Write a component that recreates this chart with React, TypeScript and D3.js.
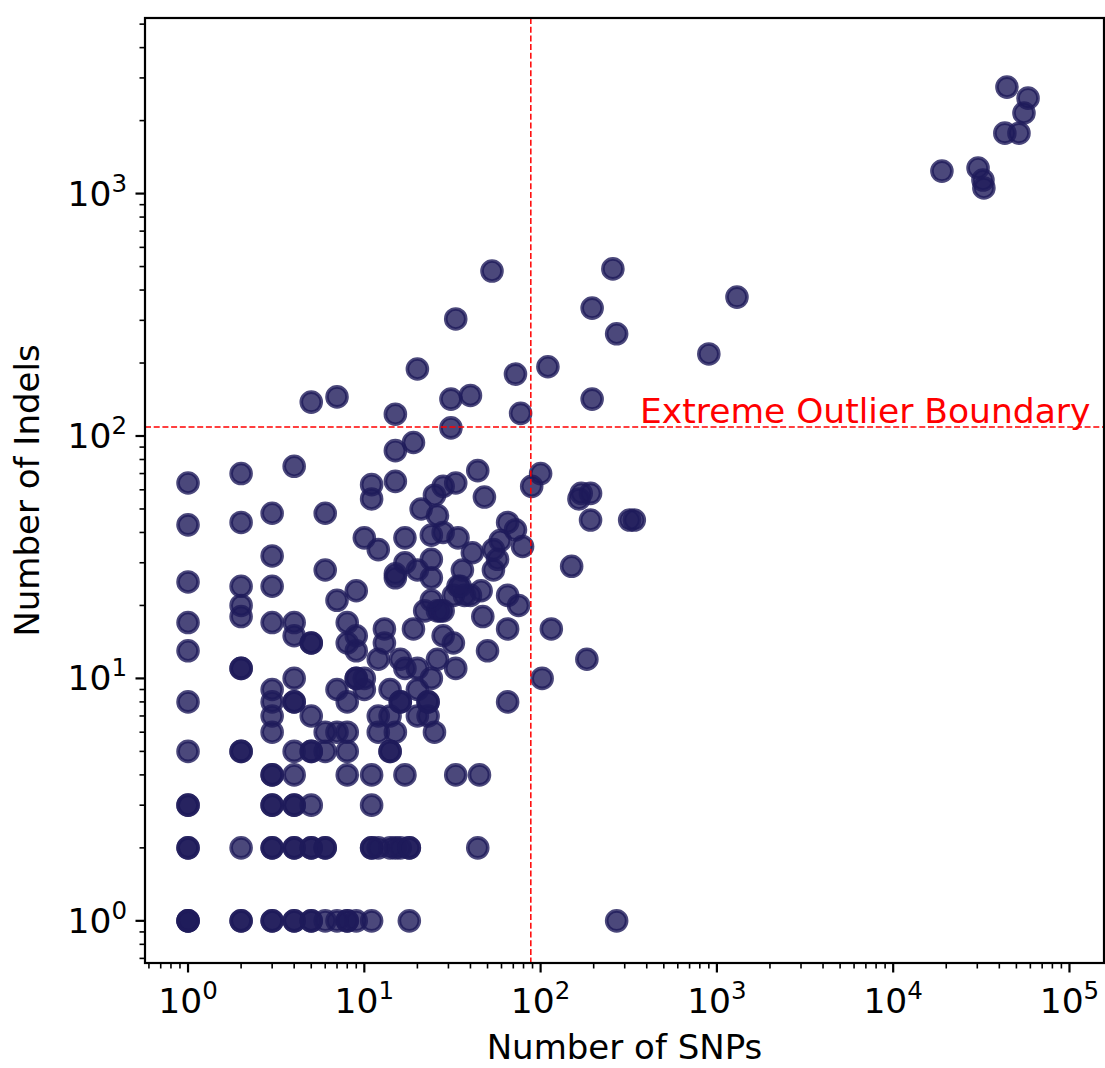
import React from 'react';
import * as d3 from 'd3';

// --- data: [SNP count, indel count] per sample ---
const lowIndelPoints: [number, number][] = [
  [1, 1], [1, 1], [1, 1], [2, 1], [2, 1], [3, 1], [3, 1], [4, 1], [4, 1], [5, 1], [5, 1], [6, 1], [7, 1],
  [8, 1], [8, 1], [9, 1], [11, 1], [18, 1], [270, 1],
  [1, 2], [1, 2], [2, 2], [3, 2], [3, 2], [4, 2], [4, 2], [5, 2], [5, 2], [6, 2], [6, 2], [11, 2], [11, 2],
  [12, 2], [14, 2], [15, 2], [16, 2], [18, 2], [18, 2], [44, 2],
  [1, 3], [1, 3], [3, 3], [3, 3], [4, 3], [4, 3], [5, 3], [11, 3],
  [3, 4], [3, 4], [4, 4], [8, 4], [11, 4], [17, 4], [33, 4], [45, 4],
  [1, 5], [2, 5], [2, 5], [4, 5], [5, 5], [5, 5], [6, 5], [8, 5], [14, 5], [14, 5],
];

const midIndelPoints: [number, number][] = [
  [3, 6], [6, 6], [7, 6], [8, 6], [12, 6], [15, 6], [25, 6],
  [3, 7], [5, 7], [12, 7], [14, 7], [20, 7], [23, 7],
  [1, 8], [3, 8], [4, 8], [4, 8], [8, 8], [16, 8], [16, 8], [23, 8], [23, 8], [65, 8],
  [3, 9], [7, 9], [10, 9], [14, 9], [20, 9],
  [4, 10], [9, 10], [9, 10], [10, 10], [24, 10], [102, 10],
  [2, 11], [2, 11], [17, 11], [20, 11], [33, 11],
  [12, 12], [16, 12], [26, 12], [183, 12],
  [1, 13], [9, 13], [50, 13],
  [5, 14], [5, 14], [8, 14], [13, 14], [32, 14],
  [4, 15], [9, 15], [28, 15],
  [13, 16], [19, 16], [65, 16], [115, 16],
  [1, 17], [3, 17], [4, 17], [8, 17],
  [2, 18], [47, 18],
  [22, 19], [26, 19], [27, 19], [28, 19],
  [2, 20], [75, 20],
];

const highIndelPoints: [number, number][] = [
  [7, 21], [24, 21],
  [32, 22], [37, 22], [40, 22], [65, 22],
  [9, 23], [46, 23],
  [2, 24], [3, 24], [34, 24], [35, 24],
  [1, 25],
  [15, 26], [24, 26], [15, 27],
  [6, 28], [20, 28], [36, 28], [54, 28],
  [150, 29], [17, 30], [24, 31], [57, 31], [3, 32], [41, 33],
  [12, 34], [54, 34], [79, 35], [59, 37],
  [10, 38], [17, 38], [34, 38], [24, 39], [28, 40], [72, 41],
  [1, 43], [2, 44], [65, 44],
  [192, 45], [320, 45], [340, 45],
  [26, 47], [3, 48], [6, 48], [21, 50],
  [11, 55], [165, 55], [48, 56], [25, 57], [170, 58], [192, 58],
  [28, 62], [89, 62], [11, 63], [1, 64], [33, 64], [15, 65],
  [2, 70], [100, 70], [44, 72], [4, 75], [15, 87], [19, 94],
];

const outlierPoints: [number, number][] = [
  [31, 108], [15, 123], [77, 124], [5, 138], [31, 142], [196, 142], [7, 145], [40, 147],
  [72, 180], [20, 189], [110, 193], [900, 218], [270, 264], [33, 304], [196, 337],
  [1300, 374], [53, 479], [257, 489],
];

const extremePoints: [number, number][] = [
  [18900, 1238], [30300, 1275], [32300, 1137], [32700, 1055], [43000, 1775],
  [51700, 1775], [55200, 2150], [58200, 2475], [44200, 2750],
];

const snpCutoff = 88;
const indelCutoff = 109;
const xMajorExp = [0, 1, 2, 3, 4, 5];
const yMajorExp = [0, 1, 2, 3];

const allPoints = [...lowIndelPoints, ...midIndelPoints, ...highIndelPoints, ...outlierPoints, ...extremePoints];

const W = 1105;
const H = 1068;
const plot = { left: 145, right: 1104, top: 18, bottom: 963 };
const font = '"DejaVu Sans", sans-serif';
const dotColor = '#1e1a5a';

const minorTicks = (domain: number[]) => {
  const out: number[] = [];
  for (let k = -1; k <= 5; k++) {
    for (let d = 2; d <= 9; d++) {
      const v = d * Math.pow(10, k);
      if (v >= domain[0] && v <= domain[1]) out.push(v);
    }
  }
  return out;
};

const PowLabel = ({ e, ...rest }: any) => (
  <text {...rest} fontFamily={font} fontSize={34.5} fill="#000">
    10<tspan fontSize={24.5} dy={-14}>{e}</tspan>
  </text>
);

export default function App() {
  const xDomain = [0.57, 157000];
  const yDomain = [0.67, 5300];
  const x = d3.scaleLog().domain(xDomain).range([plot.left, plot.right]);
  const y = d3.scaleLog().domain(yDomain).range([plot.bottom, plot.top]);

  return (
    <div style={{ position: 'absolute', left: 0, top: 0 }}>
      <svg width={W} height={H} style={{ display: 'block', background: '#fff' }}>
        <defs>
          <clipPath id="plotClip">
            <rect x={plot.left} y={plot.top} width={plot.right - plot.left} height={plot.bottom - plot.top} />
          </clipPath>
        </defs>

        {/* points */}
        <g clipPath="url(#plotClip)">
          {allPoints.map((p, i) => (
            <circle key={i} cx={x(p[0])} cy={y(p[1])} r={10}
              fill={dotColor} fillOpacity={0.8} stroke={dotColor} strokeOpacity={0.8} strokeWidth={3.6} />
          ))}
          <line x1={x(snpCutoff)} x2={x(snpCutoff)} y1={plot.top} y2={plot.bottom}
            stroke="red" strokeWidth={1.5} strokeDasharray="6,2.7" />
          <line x1={plot.left} x2={plot.right} y1={y(indelCutoff)} y2={y(indelCutoff)}
            stroke="red" strokeWidth={1.5} strokeDasharray="6,2.7" />
        </g>
        <text x={640} y={y(indelCutoff) - 4} fill="red" fontFamily={font} fontSize={34.5}>Extreme Outlier Boundary</text>

        {/* x axis ticks */}
        {minorTicks(xDomain).map((v, i) => (
          <line key={'xm' + i} x1={x(v)} x2={x(v)} y1={plot.bottom} y2={plot.bottom + 5.5} stroke="#000" strokeWidth={1.6} />
        ))}
        {xMajorExp.map(e => (
          <g key={'xM' + e}>
            <line x1={x(Math.pow(10, e))} x2={x(Math.pow(10, e))} y1={plot.bottom} y2={plot.bottom + 9.5} stroke="#000" strokeWidth={2.2} />
            <PowLabel e={e} x={x(Math.pow(10, e))} y={1013} textAnchor="middle" />
          </g>
        ))}

        {/* y axis ticks */}
        {minorTicks(yDomain).map((v, i) => (
          <line key={'ym' + i} x1={plot.left - 5.5} x2={plot.left} y1={y(v)} y2={y(v)} stroke="#000" strokeWidth={1.6} />
        ))}
        {yMajorExp.map(e => (
          <g key={'yM' + e}>
            <line x1={plot.left - 9.5} x2={plot.left} y1={y(Math.pow(10, e))} y2={y(Math.pow(10, e))} stroke="#000" strokeWidth={2.2} />
            <PowLabel e={e} x={127} y={y(Math.pow(10, e)) + 12} textAnchor="end" />
          </g>
        ))}

        {/* spines */}
        <rect x={plot.left} y={plot.top} width={plot.right - plot.left} height={plot.bottom - plot.top}
          fill="none" stroke="#000" strokeWidth={2.2} />

        {/* axis titles */}
        <text x={(plot.left + plot.right) / 2} y={1059} textAnchor="middle" fontFamily={font} fontSize={34}>Number of SNPs</text>
        <text transform={`translate(39,${(plot.top + plot.bottom) / 2}) rotate(-90)`} textAnchor="middle"
          fontFamily={font} fontSize={34}>Number of Indels</text>
      </svg>
    </div>
  );
}
